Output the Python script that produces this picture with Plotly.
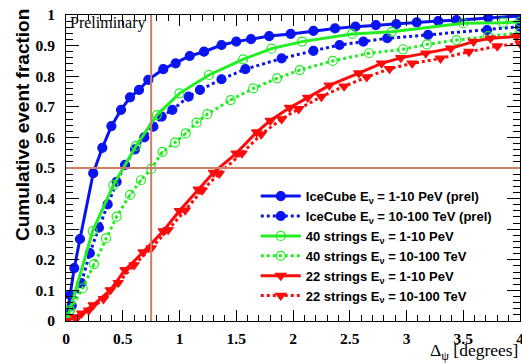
import plotly.graph_objects as go

# angular separation [deg] vs cumulative event fraction
IC_PEV_X = [0, 0.035, 0.073, 0.123, 0.24, 0.32, 0.40, 0.485, 0.564, 0.643, 0.725, 0.857, 0.966,
            1.09, 1.216, 1.37, 1.50, 1.63, 1.79, 1.98, 2.18, 2.37, 2.55, 2.73, 2.91, 3.09,
            3.28, 3.44, 3.72, 4.0]
IC_PEV_Y = [0, 0.085, 0.173, 0.268, 0.483, 0.566, 0.637, 0.69, 0.731, 0.755, 0.788, 0.823, 0.842,
            0.866, 0.88, 0.902, 0.913, 0.921, 0.931, 0.938, 0.948, 0.956, 0.962, 0.967, 0.970,
            0.976, 0.98, 0.983, 0.991, 0.997]

IC_TEV_X = [0, 0.05, 0.135, 0.21, 0.29, 0.367, 0.446, 0.52, 0.608, 0.69, 0.77, 0.843, 0.937,
            1.08, 1.18, 1.37, 1.58, 1.90, 2.18, 2.41, 2.62, 2.83, 3.19, 3.71, 4.0]
IC_TEV_Y = [0, 0.05, 0.124, 0.222, 0.305, 0.381, 0.455, 0.51, 0.561, 0.60, 0.635, 0.668, 0.69,
            0.733, 0.755, 0.79, 0.823, 0.858, 0.883, 0.902, 0.913, 0.924, 0.935, 0.951, 0.962]

S40_PEV_X = [0, 0.03, 0.235, 0.417, 0.617, 0.80, 1.0, 1.26, 1.56, 1.81, 2.08, 2.52, 2.87, 3.5,
             3.85, 4.0]
S40_PEV_Y = [0, 0.03, 0.294, 0.444, 0.572, 0.673, 0.744, 0.804, 0.855, 0.89, 0.913, 0.938, 0.945,
             0.973, 0.975, 0.978]

S40_TEV_X = [0, 0.035, 0.147, 0.247, 0.352, 0.446, 0.564, 0.66, 0.75, 0.85, 0.96, 1.055, 1.15,
             1.245, 1.45, 1.65, 1.86, 2.06, 2.35, 2.67, 2.97, 3.18, 3.44, 3.72, 4.0]
S40_TEV_Y = [0, 0.036, 0.107, 0.186, 0.27, 0.341, 0.412, 0.46, 0.497, 0.553, 0.583, 0.613, 0.648,
             0.676, 0.722, 0.76, 0.793, 0.82, 0.85, 0.875, 0.888, 0.904, 0.918, 0.931, 0.942]

S22_PEV_X = [0, 0.08, 0.138, 0.24, 0.39, 0.52, 0.68, 0.857, 1.0, 1.166, 1.30, 1.50, 1.68, 1.80,
             1.97, 2.13, 2.32, 2.58, 2.78, 2.95, 3.17, 3.39, 3.59, 3.74, 3.97]
S22_PEV_Y = [0, 0.012, 0.025, 0.052, 0.101, 0.167, 0.225, 0.294, 0.36, 0.43, 0.485, 0.548, 0.617,
             0.655, 0.697, 0.73, 0.77, 0.81, 0.842, 0.86, 0.875, 0.891, 0.913, 0.924, 0.93]

S22_TEV_X = [0, 0.1, 0.2, 0.33, 0.46, 0.6, 0.75, 0.9, 1.05, 1.2, 1.35, 1.55, 1.72, 1.9, 2.05,
             2.25, 2.45, 2.65, 2.85, 3.05, 3.3, 3.55, 3.8, 4.0]
S22_TEV_Y = [0, 0.012, 0.035, 0.072, 0.125, 0.183, 0.238, 0.298, 0.362, 0.427, 0.482, 0.548, 0.61,
             0.66, 0.693, 0.733, 0.767, 0.797, 0.824, 0.842, 0.858, 0.88, 0.898, 0.907]

REF_X = 0.75
REF_Y = 0.5

BLUE = "#0a14f0"
GREEN = "#22ee22"
RED = "#ff0a0a"
REF_COLOR = "#cc8066"

SERIES = [
    ("IceCube E<sub>ν</sub> = 1-10 PeV (prel)", IC_PEV_X, IC_PEV_Y, BLUE, "solid", "circle"),
    ("IceCube E<sub>ν</sub> = 10-100 TeV (prel)", IC_TEV_X, IC_TEV_Y, BLUE, "dot", "circle"),
    ("40 strings E<sub>ν</sub> = 1-10 PeV", S40_PEV_X, S40_PEV_Y, GREEN, "solid", "circle-open"),
    ("40 strings E<sub>ν</sub> = 10-100 TeV", S40_TEV_X, S40_TEV_Y, GREEN, "dot", "circle-open-dot"),
    ("22 strings E<sub>ν</sub> = 1-10 PeV", S22_PEV_X, S22_PEV_Y, RED, "solid", "triangle-down"),
    ("22 strings E<sub>ν</sub> = 10-100 TeV", S22_TEV_X, S22_TEV_Y, RED, "dot", "triangle-down"),
]

fig = go.Figure()
for name, xs, ys, color, dash, symbol in SERIES:
    fig.add_trace(go.Scatter(
        x=xs, y=ys, name=name, mode="lines+markers",
        line=dict(color=color, width=3, dash=dash),
        marker=dict(color=color, size=9, symbol=symbol, line=dict(color=color, width=1.2)),
    ))

fig.add_shape(type="line", xref="x", yref="paper", x0=REF_X, x1=REF_X, y0=0, y1=1,
              line=dict(color=REF_COLOR, width=2), layer="above")
fig.add_shape(type="line", xref="paper", yref="y", x0=0, x1=1, y0=REF_Y, y1=REF_Y,
              line=dict(color=REF_COLOR, width=2), layer="above")

tick_font = dict(family="Liberation Serif", size=15.5, color="black", weight="bold")
axis_common = dict(
    showline=True, linecolor="black", linewidth=1, mirror="allticks",
    ticks="inside", tickcolor="black", showgrid=False, zeroline=False,
    tickfont=tick_font, automargin=False, ticklabeloverflow="allow",
)
fig.update_xaxes(range=[0, 4], dtick=0.5, ticklen=11, ticklabelstandoff=3,
                 minor=dict(dtick=0.1, ticks="inside", ticklen=6, tickcolor="black"),
                 **axis_common)
fig.update_yaxes(range=[0, 1], dtick=0.1, ticklen=13, ticklabelstandoff=7,
                 minor=dict(dtick=0.02, ticks="inside", ticklen=7, tickcolor="black"),
                 **axis_common)

fig.add_annotation(text="Preliminary", xref="paper", yref="paper", x=0.004, y=0.975,
                   xanchor="left", yanchor="middle", showarrow=False,
                   font=dict(family="Liberation Serif", size=16, color="black"))
fig.add_annotation(text="Δ<sub>ψ</sub> [degrees]", xref="paper", yref="paper", x=1.0, y=-0.1,
                   xanchor="right", yanchor="middle", showarrow=False,
                   font=dict(family="Liberation Serif", size=17.5, color="black"))
fig.add_annotation(text="<b>Cumulative event fraction</b>", xref="paper", yref="paper",
                   x=-0.097, y=1.026, xanchor="center", yanchor="top", textangle=-90,
                   showarrow=False, font=dict(family="Liberation Sans", size=19, color="black"))

fig.update_layout(
    width=522, height=363,
    margin=dict(l=66, r=2, t=15, b=42, autoexpand=False),
    plot_bgcolor="white", paper_bgcolor="white",
    legend=dict(x=0.418, y=0.457, xanchor="left", yanchor="top",
                bgcolor="rgba(0,0,0,0)", tracegroupgap=0, itemwidth=40,
                font=dict(family="Liberation Sans", size=13, color="black", weight="bold")),
)

fig.write_html("out.html", config={"displayModeBar": False},
               post_script="document.body.style.margin='0';")
